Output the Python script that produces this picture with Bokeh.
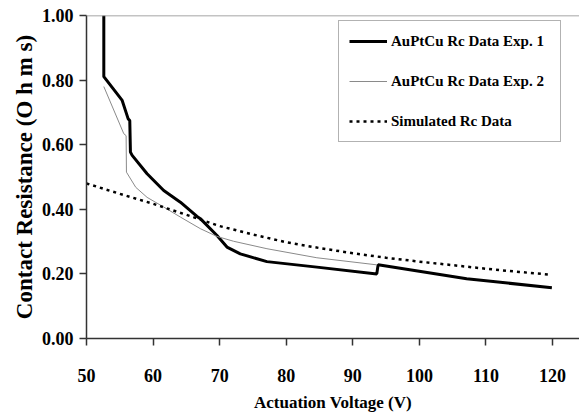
from bokeh.plotting import figure
from bokeh.models import Range1d, FixedTicker, Span, Legend, LegendItem
from bokeh.embed import file_html
from bokeh.resources import INLINE

# Experimental series 1 (thick black)
exp1_v = [52.6, 52.6, 55.36, 56.26, 56.5, 56.6, 56.86, 59.1, 61.6, 64.1, 66.6, 67.1, 69.6, 71.1, 73.1, 77.1, 84.6, 93.6, 93.8, 107.1, 119.9]
exp1_r = [1.00, 0.811, 0.737, 0.680, 0.675, 0.577, 0.567, 0.510, 0.458, 0.422, 0.378, 0.371, 0.319, 0.283, 0.262, 0.238, 0.221, 0.200, 0.228, 0.185, 0.157]

# Experimental series 2 (thin grey)
exp2_v = [52.6, 55.6, 55.95, 56.0, 57.4, 59.1, 61.6, 64.1, 67.1, 69.6, 72.1, 77.1, 84.6, 93.6]
exp2_r = [0.780, 0.634, 0.628, 0.515, 0.468, 0.437, 0.407, 0.376, 0.340, 0.316, 0.301, 0.278, 0.250, 0.228]

# Simulated (dotted)
sim_v = [50, 55, 60, 65, 70, 75, 80, 85, 90, 95, 100, 105, 110, 115, 119.5]
sim_r = [0.480, 0.448, 0.417, 0.383, 0.348, 0.322, 0.298, 0.280, 0.264, 0.250, 0.238, 0.227, 0.216, 0.206, 0.198]

x_ticks = [50, 60, 70, 80, 90, 100, 110, 120]
y_ticks = [0.0, 0.2, 0.4, 0.6, 0.8, 1.0]
y_tick_labels = {0.0: "0.00", 0.2: "0.20", 0.4: "0.40", 0.6: "0.60", 0.8: "0.80", 1.0: "1.00"}

FONT = "Liberation Serif"

p = figure(width=579, height=419, output_backend="svg", toolbar_location=None,
           x_range=Range1d(50, 124.05), y_range=Range1d(0, 1.0),
           min_border_left=86, min_border_right=0, min_border_top=15, min_border_bottom=81)
p.outline_line_color = None
p.grid.visible = False
p.background_fill_color = "white"

top_line = Span(location=1.0, dimension="width", line_color="#888888", line_width=1.5)
p.add_layout(top_line)

r1 = p.line(exp1_v, exp1_r, line_color="black", line_width=3)
r2 = p.line(exp2_v, exp2_r, line_color="#8a8a8a", line_width=1)
r3 = p.line(sim_v, sim_r, line_color="black", line_width=2.5, line_dash="3 4")

for ax in (p.xaxis[0], p.yaxis[0]):
    ax.axis_line_color = "#333333"
    ax.axis_line_width = 1.5
    ax.major_tick_line_color = "#333333"
    ax.major_tick_line_width = 1.5
    ax.minor_tick_line_color = None
    ax.major_tick_in = 0
    ax.major_tick_out = 7
    ax.major_label_text_font = FONT
    ax.major_label_text_font_style = "bold"
    ax.major_label_text_color = "black"
    ax.axis_label_text_font = FONT
    ax.axis_label_text_font_style = "bold"
    ax.axis_label_text_color = "black"

p.xaxis.ticker = FixedTicker(ticks=x_ticks)
p.yaxis.ticker = FixedTicker(ticks=y_ticks)
p.yaxis.major_label_overrides = y_tick_labels
p.xaxis.major_label_text_font_size = "18px"
p.yaxis.major_label_text_font_size = "18px"
p.xaxis.major_label_standoff = 23
p.yaxis.major_label_standoff = 6

p.xaxis.axis_label = "Actuation Voltage (V)"
p.xaxis.axis_label_text_font_size = "17px"
p.xaxis.axis_label_standoff = 8
p.yaxis.axis_label = "Contact Resistance (O h m s)"
p.yaxis.axis_label_text_font_size = "23px"
p.yaxis.axis_label_standoff = 2

legend = Legend(items=[
    LegendItem(label="AuPtCu Rc Data Exp. 1", renderers=[r1]),
    LegendItem(label="AuPtCu Rc Data Exp. 2", renderers=[r2]),
    LegendItem(label="Simulated Rc Data", renderers=[r3]),
], location=(252, 196))
legend.label_text_font = FONT
legend.label_text_font_style = "bold"
legend.label_text_font_size = "15px"
legend.label_text_color = "black"
legend.border_line_color = "#666666"
legend.border_line_width = 1
legend.padding = 10
legend.spacing = 20
legend.label_height = 20
legend.glyph_height = 20
legend.glyph_width = 38
legend.label_standoff = 4
legend.label_width = 159
legend.margin = 0
p.add_layout(legend)

open("out.html", "w").write(file_html(p, INLINE))
